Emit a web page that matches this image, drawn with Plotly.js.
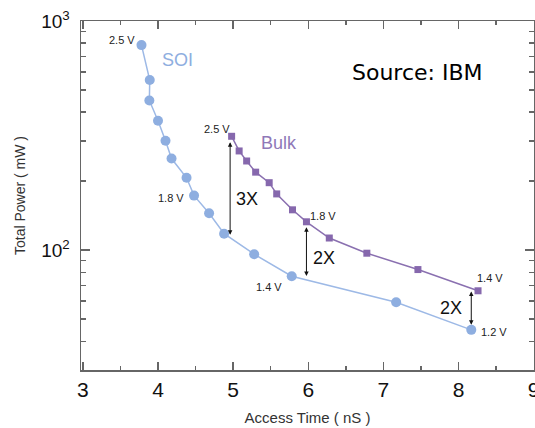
<!DOCTYPE html>
<html>
<head>
<meta charset="utf-8">
<script src="https://cdn.plot.ly/plotly-3.0.1.min.js"></script>
<style>html,body{margin:0;padding:0;background:#fff;}#chart{width:535px;height:428px;}</style>
</head>
<body>
<div id="chart"></div>
<script>
// SOI series (access time ns, total power mW)
var soiTime  = [3.78, 3.89, 3.885, 4.00, 4.10, 4.18, 4.38, 4.48, 4.68, 4.88, 5.28, 5.78, 7.17, 8.17];
var soiPower = [785, 553, 450, 367, 300, 251, 207, 173, 145, 118, 96, 77, 59.3, 44.9];
// Bulk series
var bulkTime  = [4.98, 5.08, 5.18, 5.30, 5.48, 5.58, 5.79, 5.976, 6.28, 6.78, 7.46, 8.26];
var bulkPower = [314, 271, 245, 219, 197, 176, 150, 133, 113, 97, 82.3, 66.5];
// Ratio arrows
var arrowTime   = [4.96, 5.976, 8.17];
var arrowTop    = [296, 126, 66];
var arrowBottom = [115, 76, 46.6];
var arrowLabels = ['3X', '2X', '2X'];
// Axis ticks
var xTickVals  = [3, 4, 5, 6, 7, 8, 9];
var yTickVals  = [100, 1000];
var yTickText  = ['10<sup>2</sup>', '10<sup>3</sup>'];

var soiColor = '#8eaee0';
var bulkColor = '#8668ad';
var axisColor = '#666666';
var font = 'Liberation Sans, Arial, Helvetica, sans-serif';
var L = Math.log10;

var traces = [
  {x: soiTime, y: soiPower, type: 'scatter', mode: 'lines+markers',
   line: {color: '#9db9e6', width: 1.5},
   marker: {symbol: 'circle', size: 10, color: soiColor}, hoverinfo: 'skip'},
  {x: bulkTime, y: bulkPower, type: 'scatter', mode: 'lines+markers',
   line: {color: '#8a70b0', width: 1.5},
   marker: {symbol: 'square', size: 7, color: bulkColor}, hoverinfo: 'skip'}
];

var ann = [];
for (var i = 0; i < arrowTime.length; i++) {
  ann.push({x: arrowTime[i], y: L(arrowTop[i]), ax: arrowTime[i], ay: L(arrowBottom[i]),
    xref: 'x', yref: 'y', axref: 'x', ayref: 'y', text: '', showarrow: true,
    arrowside: 'end+start', arrowhead: 2, arrowsize: 0.9, arrowwidth: 1, arrowcolor: '#111'});
}
var ratioPos = [[5.19, 166.8], [6.215, 92.9], [7.905, 56.1]];
for (var j = 0; j < arrowLabels.length; j++) {
  ann.push({x: ratioPos[j][0], y: L(ratioPos[j][1]), xref: 'x', yref: 'y', showarrow: false,
    text: arrowLabels[j], font: {family: font, size: 18, color: '#111'}});
}
function vlab(t, x, y) {
  return {x: x, y: L(y), xref: 'x', yref: 'y', showarrow: false, text: t,
    font: {family: font, size: 11, color: '#222'}};
}
ann.push(vlab('2.5 V', 3.524, 826));
ann.push(vlab('1.8 V', 4.168, 169.6));
ann.push(vlab('1.4 V', 5.475, 68.9));
ann.push(vlab('1.2 V', 8.467, 44.0));
ann.push(vlab('2.5 V', 4.787, 339));
ann.push(vlab('1.8 V', 6.193, 141.4));
ann.push(vlab('1.4 V', 8.423, 75.4));
ann.push({x: 4.265, y: L(676), xref: 'x', yref: 'y', showarrow: false, text: 'SOI',
  font: {family: font, size: 18, color: soiColor}});
ann.push({x: 5.608, y: L(292.6), xref: 'x', yref: 'y', showarrow: false, text: 'Bulk',
  font: {family: font, size: 18, color: '#8f78b8'}});
ann.push({x: 7.452, y: L(596), xref: 'x', yref: 'y', showarrow: false, text: 'Source: IBM',
  font: {family: 'DejaVu Sans, sans-serif', size: 22, color: '#000'}});

var layout = {
  width: 535, height: 428,
  margin: {l: 81, r: 1, t: 21, b: 58},
  paper_bgcolor: '#fff', plot_bgcolor: '#fff',
  showlegend: false,
  xaxis: {
    range: [2.975, 9.005], tickvals: xTickVals, showgrid: false, zeroline: false,
    showline: true, linecolor: axisColor, linewidth: 1.5, mirror: 'allticks',
    ticks: 'inside', ticklen: 8, tickwidth: 1.5, tickcolor: axisColor,
    minor: {dtick: 0.5, ticks: 'inside', ticklen: 4, tickwidth: 1.5, tickcolor: axisColor, showgrid: false},
    tickfont: {family: font, size: 21, color: '#111'}, ticklabelstandoff: 0,
    ticklabeloverflow: 'allow', automargin: false,
    title: {text: 'Access Time ( nS )', font: {family: font, size: 15, color: '#333'}, standoff: 13}
  },
  yaxis: {
    type: 'log', range: [Math.log10(30), 3], tickvals: yTickVals, ticktext: yTickText,
    showgrid: false, zeroline: false,
    showline: true, linecolor: axisColor, linewidth: 1.5, mirror: 'allticks',
    ticks: 'inside', ticklen: 9, tickwidth: 1.5, tickcolor: axisColor,
    minor: {dtick: 'D1', ticks: 'inside', ticklen: 5, tickwidth: 1.5, tickcolor: axisColor, showgrid: false},
    tickfont: {family: font, size: 19, color: '#111'}, ticklabelstandoff: 6,
    title: {text: 'Total Power ( mW )', font: {family: font, size: 14, color: '#333'}, standoff: 12}
  },
  annotations: ann
};

Plotly.newPlot('chart', traces, layout, {staticPlot: true, displayModeBar: false});
</script>
</body>
</html>
